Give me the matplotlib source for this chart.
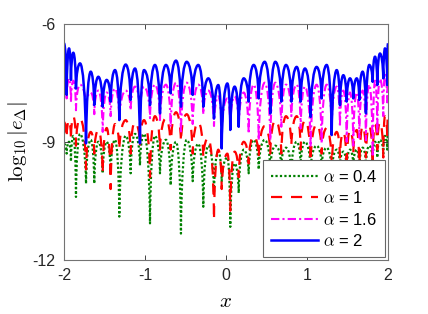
import matplotlib
matplotlib.use('Agg')
import matplotlib.pyplot as plt
from matplotlib.path import Path
from matplotlib.patches import PathPatch

plt.rcParams['font.family'] = ['Liberation Sans', 'DejaVu Sans']
plt.rcParams['mathtext.fontset'] = 'cm'

# x positions of the arch tops / cusps
x = [-2.000, -1.967, -1.938, -1.914, -1.885, -1.852, -1.802, -1.728, -1.670, -1.626,
     -1.576, -1.522, -1.473, -1.424, -1.370, -1.317, -1.238, -1.177, -1.123, -1.062,
     -1.012, -0.938, -0.877, -0.815, -0.741, -0.683, -0.617, -0.556, -0.485, -0.411,
     -0.342, -0.280, -0.218, -0.148, -0.095, -0.053, 0.017, 0.053, 0.107, 0.157,
     0.219, 0.280, 0.342, 0.404, 0.478, 0.547, 0.609, 0.683, 0.741, 0.807,
     0.873, 0.922, 0.975, 1.045, 1.119, 1.181, 1.243, 1.305, 1.367, 1.407,
     1.449, 1.490, 1.531, 1.572, 1.614, 1.646, 1.687, 1.728, 1.769, 1.811,
     1.840, 1.868, 1.901, 1.942, 1.963, 1.991, 2.000]

e_04 = [-9.05, -9.30, -9.00, -9.50, -8.85, -10.40, -8.80, -10.06, -8.95, -10.06,
        -9.00, -9.80, -9.00, -9.80, -8.95, -10.90, -8.85, -9.80, -8.80, -9.60,
        -8.80, -11.07, -8.85, -9.80, -8.95, -10.10, -9.00, -11.33, -8.95, -10.00,
        -9.05, -10.65, -9.10, -10.30, -9.25, -10.00, -9.40, -11.16, -9.55, -10.30,
        -9.20, -9.80, -8.95, -9.70, -8.95, -9.70, -9.10, -9.60, -9.15, -9.80,
        -9.00, -9.60, -9.00, -9.70, -9.10, -9.60, -9.15, -9.80, -9.20, -9.60,
        -9.25, -9.70, -9.20, -9.60, -9.20, -9.70, -9.15, -9.60, -9.10, -9.50,
        -9.00, -9.40, -8.95, -9.30, -8.85, -9.20, -8.85]

e_1 = [-8.50, -8.90, -8.45, -8.95, -8.35, -9.10, -8.40, -9.70, -8.75, -9.30,
       -8.70, -9.80, -8.65, -10.20, -8.55, -9.20, -8.45, -9.30, -8.50, -9.10,
       -8.45, -9.90, -8.35, -9.20, -8.40, -9.20, -8.25, -9.00, -8.30, -9.30,
       -8.50, -9.40, -8.90, -10.99, -9.20, -10.20, -9.30, -10.75, -9.25, -9.90,
       -9.00, -9.55, -8.85, -9.40, -8.60, -9.30, -8.45, -9.30, -8.35, -9.10,
       -8.35, -9.20, -8.45, -9.50, -8.55, -9.30, -8.65, -9.60, -8.75, -9.40,
       -8.75, -9.70, -8.70, -9.30, -8.70, -9.80, -8.60, -9.40, -8.60, -9.60,
       -8.55, -9.20, -8.50, -9.40, -8.35, -8.90, -8.30]

e_16 = [-7.35, -7.90, -7.40, -8.00, -7.45, -8.20, -7.55, -8.10, -7.75, -8.30,
        -7.70, -8.75, -7.75, -8.35, -7.65, -8.45, -7.70, -8.20, -7.60, -8.30,
        -7.60, -8.40, -7.55, -8.45, -7.55, -8.62, -7.50, -8.79, -7.50, -8.55,
        -7.55, -8.30, -7.70, -8.60, -7.85, -8.80, -7.90, -8.60, -7.85, -8.65,
        -7.75, -8.79, -7.55, -8.96, -7.50, -8.96, -7.50, -8.62, -7.55, -8.35,
        -7.55, -8.66, -7.60, -9.13, -7.55, -9.04, -7.55, -8.62, -7.60, -8.62,
        -7.70, -9.00, -7.75, -9.10, -7.75, -8.90, -7.70, -8.96, -7.55, -9.38,
        -7.45, -8.79, -7.40, -8.35, -7.30, -8.00, -7.25]

e_2 = [-6.50, -7.81, -6.63, -7.43, -6.74, -7.65, -7.01, -9.04, -7.22, -8.07,
       -7.35, -8.11, -7.43, -7.98, -7.18, -8.45, -7.04, -7.94, -7.14, -9.04,
       -7.18, -8.07, -7.05, -8.28, -7.05, -7.77, -6.94, -8.11, -6.97, -7.81,
       -7.05, -8.11, -7.39, -8.41, -7.56, -9.17, -7.52, -8.70, -7.60, -8.62,
       -7.39, -7.98, -7.05, -7.90, -6.97, -8.28, -6.97, -7.98, -7.05, -7.98,
       -7.10, -7.98, -7.14, -8.37, -7.10, -7.90, -7.05, -8.83, -7.18, -8.07,
       -7.31, -7.98, -7.39, -7.90, -7.39, -7.94, -7.22, -8.28, -7.05, -7.48,
       -6.84, -7.56, -6.76, -7.39, -6.63, -7.56, -6.50]


def arch_path(xs, ys):
    # bezier arches: steep cusp at the low points, flat rounded tops
    verts = [(xs[0], ys[0])]
    codes = [Path.MOVETO]
    for i in range(len(xs) - 1):
        x0, y0, x1, y1 = xs[i], ys[i], xs[i + 1], ys[i + 1]
        dx = x1 - x0
        if y1 > y0:
            c1 = (x0 + 0.08 * dx, y0 + 0.6 * (y1 - y0))
            c2 = (x1 - 0.45 * dx, y1)
        else:
            c1 = (x0 + 0.45 * dx, y0)
            c2 = (x1 - 0.08 * dx, y1 + 0.6 * (y0 - y1))
        verts += [c1, c2, (x1, y1)]
        codes += [Path.CURVE4] * 3
    return Path(verts, codes)


fig = plt.figure(figsize=(4.28, 3.14), dpi=100)
ax = fig.add_axes([0.1495, 0.172, 0.757, 0.753])

series = [
    (e_04, '#008000', 1.6, (0, (1, 1)), r'$\alpha$ = 0.4'),
    (e_1, '#ff0000', 1.6, (0, (5, 4)), r'$\alpha$ = 1'),
    (e_16, '#ff00ff', 1.5, (0, (4, 1.5, 1, 1.5)), r'$\alpha$ = 1.6'),
    (e_2, '#0000ff', 1.8, '-', r'$\alpha$ = 2'),
]
handles = []
for ys, col, lw, ls, lab in series:
    ax.add_patch(PathPatch(arch_path(x, ys), facecolor='none', edgecolor=col,
                           lw=lw, linestyle=ls, joinstyle='round'))
    h, = ax.plot([], [], color=col, lw=lw, linestyle=ls, label=lab)
    handles.append(h)

ax.set_xlim(-2, 2)
ax.set_ylim(-12, -6)
ax.set_xticks([-2, -1, 0, 1, 2])
ax.set_xticklabels(['-2', '-1', '0', '1', '2'])
ax.set_yticks([-12, -9, -6])
ax.set_yticklabels(['-12', '-9', '-6'])
ax.tick_params(direction='in', top=True, right=True, length=3.5, width=0.6,
               labelsize=11.5, colors='0.15', pad=6)
for s in ax.spines.values():
    s.set_color('0.45')
    s.set_linewidth(0.8)

ax.set_xlabel(r'$x$', fontsize=15, labelpad=6)
ax.set_ylabel(r'$\log_{10}|e_{\Delta}|$', fontsize=15, labelpad=2)

leg = ax.legend(handles=handles, loc='lower right', fontsize=12, handlelength=2.8,
                handletextpad=0.3, labelspacing=0.33, borderpad=0.5, borderaxespad=0.15,
                fancybox=False, framealpha=1)
leg.get_frame().set_edgecolor('0.4')
leg.get_frame().set_linewidth(0.8)

fig.savefig('out.png', dpi=100)
